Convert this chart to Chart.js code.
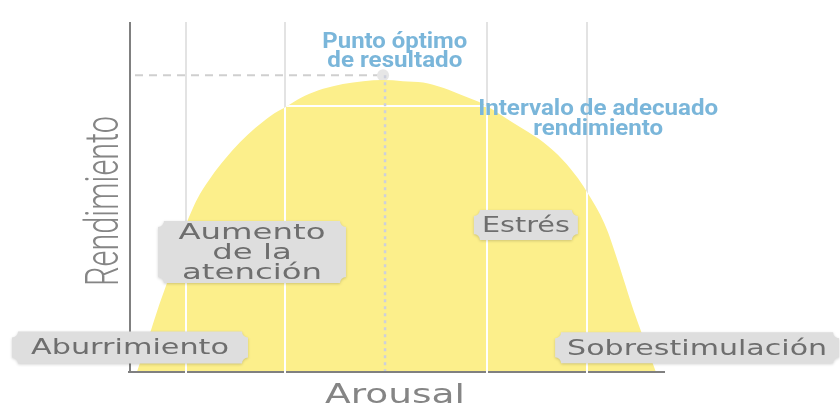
<!DOCTYPE html>
<html>
<head>
<meta charset="utf-8">
<script src="https://cdn.jsdelivr.net/npm/chart.js@4.4.0/dist/chart.umd.min.js"></script>
<style>
  html, body { margin: 0; background: #fff; }
  #wrap { width: 840px; height: 406px; }
</style>
</head>
<body>
<div id="wrap"><canvas id="c"></canvas></div>
<script>
// curva de Yerkes-Dodson, ambos ejes en unidades 0-100
const arousal     = [1.3, 3.4, 5.4, 7.5, 9.0, 10.3, 11.6, 13.1, 15.3, 17.8, 20.6, 23.4, 26.2, 29.4, 32.7, 36.1, 39.8, 43.6, 47.3,
                     51.0, 54.8, 58.5, 62.2, 66.0, 69.7, 73.5, 77.2, 80.9, 83.7, 86.0, 87.9, 89.4, 90.8, 92.3, 93.8, 95.3, 96.8, 98.3];
const rendimiento = [0, 9.4, 18.9, 28.0, 35.1, 41.4, 46.3, 50.9, 56.0, 60.9, 65.7, 69.7, 73.1, 76.0, 78.9, 80.9, 82.3, 83.1, 83.4,
                     83.1, 82.7, 81.2, 79.0, 76.6, 73.1, 69.4, 65.7, 60.6, 55.4, 50.0, 44.9, 39.7, 33.4, 26.3, 19.1, 12.6, 6.3, 0];
const optimo = { x: 47.3, y: 84.8 };
const zonas = [10.5, 29.0, 66.7, 85.4];
const nivelAdecuado = 76.0;

const etiquetas = [
  { lines: ['Aburrimiento'], x: 0, y: 7.0 },
  { lines: ['Aumento', 'de la', 'atención'], x: 22.8, y: 34.3 },
  { lines: ['Estrés'], x: 74.0, y: 42.0 },
  { lines: ['Sobrestimulación'], x: 106.0, y: 6.9 }
];
const notas = [
  { lines: ['Punto óptimo', 'de resultado'], x: 49.5, y: 92.6 },
  { lines: ['Intervalo de adecuado', 'rendimiento'], x: 87.5, y: 73.4 }
];

// tag sizes / text widths (px)
const tagSize = { 'Aburrimiento': [236, 32, 198], 'Aumento': [188, 62, 140], 'Estrés': [104, 30, 88], 'Sobrestimulación': [284, 31, 260] };
const notaW = { 'Punto óptimo': 145, 'de resultado': 135, 'Intervalo de adecuado': 240, 'rendimiento': 130 };

function fitText(ctx, s, cx, cy, w) {
  const m = ctx.measureText(s).width;
  ctx.save();
  ctx.translate(cx, cy);
  ctx.scale(w / m, 1);
  ctx.fillText(s, 0, 0);
  ctx.restore();
}

function ticket(ctx, cx, cy, w, h, r) {
  const l = cx - w / 2, t = cy - h / 2, rr = l + w, b = t + h;
  ctx.beginPath();
  ctx.moveTo(l + r, t);
  ctx.lineTo(rr - r, t);
  ctx.arc(rr, t, r, Math.PI, Math.PI / 2, true);
  ctx.lineTo(rr, b - r);
  ctx.arc(rr, b, r, -Math.PI / 2, Math.PI, true);
  ctx.lineTo(l + r, b);
  ctx.arc(l, b, r, 0, -Math.PI / 2, true);
  ctx.lineTo(l, t + r);
  ctx.arc(l, t, r, Math.PI / 2, 0, true);
  ctx.closePath();
  ctx.fill();
}

const deco = {
  id: 'deco',
  beforeDatasetsDraw(chart) {
    const { ctx, chartArea: a, scales: { x, y } } = chart;
    ctx.save();
    ctx.strokeStyle = '#e3e3e3';
    ctx.lineWidth = 2;
    zonas.forEach(v => {
      const px = Math.round(x.getPixelForValue(v));
      ctx.beginPath(); ctx.moveTo(px, a.top); ctx.lineTo(px, a.bottom); ctx.stroke();
    });
    const ox = x.getPixelForValue(optimo.x), oy = y.getPixelForValue(optimo.y);
    ctx.strokeStyle = '#cfcfcf';
    ctx.setLineDash([8, 6]);
    ctx.beginPath(); ctx.moveTo(a.left + 5, oy); ctx.lineTo(ox, oy); ctx.stroke();
    ctx.restore();
  },
  afterDatasetsDraw(chart) {
    const { ctx, chartArea: a, scales: { x, y } } = chart;
    ctx.save();
    // ejes
    ctx.strokeStyle = '#808080';
    ctx.lineWidth = 2;
    ctx.beginPath();
    ctx.moveTo(a.left, a.top); ctx.lineTo(a.left, a.bottom + 1);
    ctx.moveTo(a.left - 2, a.bottom); ctx.lineTo(a.right, a.bottom);
    ctx.stroke();

    // lineas blancas dentro del area amarilla
    const meta = chart.getDatasetMeta(0);
    const pts = meta.data;
    ctx.beginPath();
    meta.dataset.path(ctx);
    ctx.lineTo(pts[pts.length - 1].x, a.bottom + 4);
    ctx.lineTo(pts[0].x, a.bottom + 4);
    ctx.closePath();
    ctx.clip();
    ctx.strokeStyle = '#ffffff';
    ctx.lineWidth = 2;
    zonas.forEach(v => {
      const px = Math.round(x.getPixelForValue(v));
      ctx.beginPath(); ctx.moveTo(px, a.top); ctx.lineTo(px, a.bottom + 4); ctx.stroke();
    });
    const hy = Math.round(y.getPixelForValue(nivelAdecuado));
    ctx.beginPath(); ctx.moveTo(a.left, hy); ctx.lineTo(a.right, hy); ctx.stroke();
    ctx.restore();

    // vertical punteada del optimo
    ctx.save();
    const ox = x.getPixelForValue(optimo.x) + 2, oy = y.getPixelForValue(optimo.y);
    ctx.strokeStyle = '#cdd0dc';
    ctx.lineWidth = 2.5;
    ctx.setLineDash([3, 4]);
    ctx.beginPath(); ctx.moveTo(ox, oy); ctx.lineTo(ox, a.bottom - 1); ctx.stroke();
    ctx.restore();
  },
  afterDraw(chart) {
    const { ctx, chartArea: a, scales: { x, y } } = chart;
    ctx.save();
    // etiquetas grises
    etiquetas.forEach(e => {
      const cx = x.getPixelForValue(e.x), cy = y.getPixelForValue(e.y);
      const [w, h, tw] = tagSize[e.lines[0]];
      ctx.save();
      ctx.shadowColor = 'rgba(0,0,0,0.18)';
      ctx.shadowBlur = 3;
      ctx.shadowOffsetY = 1;
      ctx.fillStyle = '#dedede';
      ticket(ctx, cx, cy, w, h, 6);
      ctx.restore();
      ctx.fillStyle = '#6e6e6e';
      ctx.font = '22px "DejaVu Sans"';
      ctx.textAlign = 'center';
      ctx.textBaseline = 'middle';
      const k = tw / ctx.measureText(e.lines.reduce((p, c) => c.length > p.length ? c : p)).width;
      const lh = 20;
      e.lines.forEach((s, i) => {
        const ly = cy + (i - (e.lines.length - 1) / 2) * lh + 1;
        fitText(ctx, s, cx, ly, ctx.measureText(s).width * k);
      });
    });

    // notas azules
    ctx.fillStyle = '#7ab6da';
    ctx.font = 'bold 22px Roboto';
    ctx.textAlign = 'center';
    ctx.textBaseline = 'alphabetic';
    notas.forEach(n => {
      const cx = x.getPixelForValue(n.x), cy = y.getPixelForValue(n.y);
      n.lines.forEach((s, i) => fitText(ctx, s, cx, cy + i * 19.5, notaW[s]));
    });

    // titulos de ejes
    ctx.fillStyle = '#858585';
    ctx.font = '300 46px Roboto';
    ctx.save();
    ctx.translate(118, (a.top + a.bottom) / 2 + 4);
    ctx.rotate(-Math.PI / 2);
    fitText(ctx, 'Rendimiento', 0, 0, 170);
    ctx.restore();
    ctx.font = '26px "DejaVu Sans"';
    fitText(ctx, 'Arousal', 395, 403, 140);
    ctx.restore();
  }
};

new Chart(document.getElementById('c'), {
  type: 'line',
  data: {
    datasets: [{
      data: arousal.map((v, i) => ({ x: v, y: rendimiento[i] })),
      backgroundColor: '#fcef8b',
      borderWidth: 0,
      pointRadius: 0,
      fill: 'origin',
      cubicInterpolationMode: 'monotone'
    }, {
      type: 'scatter',
      data: [optimo],
      pointRadius: 6,
      backgroundColor: '#e6e6e6',
      borderWidth: 0
    }]
  },
  options: {
    responsive: true,
    maintainAspectRatio: false,
    animation: false,
    layout: { padding: { left: 130, right: 175, top: 22, bottom: 34 } },
    plugins: { legend: { display: false }, tooltip: { enabled: false } },
    scales: {
      x: { type: 'linear', min: 0, max: 100, display: false },
      y: { min: 0, max: 100, display: false }
    }
  },
  plugins: [deco]
});
</script>
</body>
</html>
